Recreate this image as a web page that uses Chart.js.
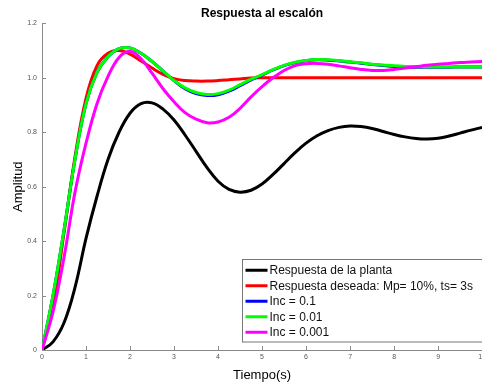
<!DOCTYPE html>
<html>
<head>
<meta charset="utf-8">
<script src="https://cdn.jsdelivr.net/npm/chart.js@4.4.1/dist/chart.umd.min.js"></script>
<style>
html,body{margin:0;padding:0;background:#fff;overflow:hidden;}
#wrap{position:relative;width:489px;height:383px;}
</style>
</head>
<body>
<div id="wrap"><canvas id="c"></canvas></div>
<script>
// ---- data ----
const tiempo = [0,0.25,0.5,0.75,1,1.25,1.5,1.75,2,2.25,2.5,2.75,3,3.25,3.5,3.75,4,4.25,4.5,4.75,5,
  5.25,5.5,5.75,6,6.25,6.5,6.75,7,7.25,7.5,7.75,8,8.25,8.5,8.75,9,9.25,9.5,9.75,10];

const planta = [0,0.03,0.10,0.23,0.41,0.565,0.70,0.80,0.87,0.905,0.908,0.885,0.845,0.79,0.73,0.67,0.62,0.59,0.58,0.587,0.61,
  0.645,0.685,0.725,0.76,0.787,0.806,0.818,0.823,0.821,0.814,0.803,0.792,0.783,0.777,0.775,0.778,0.786,0.797,0.808,0.818];

const deseada = [0,0.16,0.43,0.71,0.925,1.045,1.09,1.10,1.087,1.062,1.036,1.013,0.997,0.99,0.988,0.988,0.99,0.993,0.996,0.999,1.0,
  1.0,1.0,1.0,1.0,1.0,1.0,1.0,1.0,1.0,1.0,1.0,1.0,1.0,1.0,1.0,1.0,1.0,1.0,1.0,1.0];

const inc01 = [0,0.2,0.44,0.70,0.905,1.02,1.078,1.107,1.11,1.09,1.06,1.025,0.99,0.96,0.942,0.935,0.938,0.951,0.971,0.992,1.01,
  1.029,1.045,1.056,1.063,1.066,1.065,1.062,1.058,1.054,1.049,1.045,1.042,1.04,1.039,1.039,1.039,1.039,1.04,1.04,1.04];

const inc001 = [0,0.2,0.44,0.70,0.905,1.02,1.078,1.107,1.11,1.09,1.06,1.025,0.99,0.963,0.946,0.939,0.942,0.955,0.975,0.995,1.012,
  1.03,1.046,1.057,1.064,1.067,1.066,1.063,1.059,1.055,1.05,1.047,1.044,1.042,1.041,1.04,1.04,1.04,1.04,1.04,1.04];

const inc0001 = [0,0.14,0.34,0.58,0.76,0.905,1.005,1.075,1.098,1.07,1.017,0.96,0.912,0.872,0.848,0.835,0.838,0.855,0.888,0.93,0.968,
  1.0,1.027,1.045,1.052,1.053,1.05,1.044,1.037,1.031,1.027,1.027,1.031,1.036,1.041,1.046,1.05,1.053,1.056,1.058,1.06];

const etiquetas = ['Respuesta de la planta','Respuesta deseada: Mp= 10%, ts= 3s','Inc = 0.1','Inc = 0.01','Inc = 0.001'];
const colores = ['#000000','#ff0000','#0000ff','#00ff00','#ff00ff'];
const series = [planta, deseada, inc01, inc001, inc0001];

const FONT = '"Liberation Sans", Arial, Helvetica, sans-serif';
Chart.defaults.font.family = FONT;

const pts = s => tiempo.map((t,i)=>({x:t,y:s[i]}));

// inward tick marks (MATLAB style)
const inwardTicks = {
  id:'inwardTicks',
  beforeDatasetsDraw(chart){
    const ctx = chart.ctx, a = chart.chartArea;
    const xs = chart.scales.x, ys = chart.scales.y;
    ctx.save();
    ctx.strokeStyle = '#8a8a8a'; ctx.lineWidth = 1;
    ctx.beginPath();
    xs.ticks.forEach(t=>{ const p = Math.round(xs.getPixelForValue(t.value))+0.5;
      ctx.moveTo(p, a.bottom); ctx.lineTo(p, a.bottom-4); });
    ys.ticks.forEach(t=>{ const p = Math.round(ys.getPixelForValue(t.value))+0.5;
      ctx.moveTo(a.left, p); ctx.lineTo(a.left+4, p); });
    ctx.stroke();
    ctx.restore();
  }
};

// legend box inside the plot, bottom-right
const boxLegend = {
  id:'boxLegend',
  afterDraw(chart){
    const ctx = chart.ctx, a = chart.chartArea;
    ctx.save();
    ctx.font = '12px ' + FONT;
    const ds = chart.data.datasets;
    const rowH = 15.5, sample = 22;
    const right = a.right + 2;
    const left = 242.5;
    const top = 259.5;
    const h = ds.length*rowH + 5;
    ctx.fillStyle = '#fff';
    ctx.fillRect(left, top, right-left, h);
    ctx.strokeStyle = '#777'; ctx.lineWidth = 1;
    ctx.strokeRect(left, top, right-left, h);
    ctx.textBaseline = 'middle'; ctx.textAlign = 'left';
    ds.forEach((d,i)=>{
      const y = top + 3 + rowH*i + rowH/2;
      ctx.strokeStyle = d.borderColor; ctx.lineWidth = 3;
      ctx.beginPath(); ctx.moveTo(left+3, y); ctx.lineTo(left+3+sample, y); ctx.stroke();
      ctx.fillStyle = '#111';
      ctx.fillText(d.label, left+3+sample+2, y+0.5);
    });
    ctx.restore();
  }
};

new Chart(document.getElementById('c'), {
  type:'line',
  data:{
    datasets: series.map((s,i)=>({
      label: etiquetas[i],
      data: pts(s),
      borderColor: colores[i],
      backgroundColor: colores[i],
      borderWidth: 3,
      pointRadius: 0,
      fill:false,
      tension:0.4,
      order: 5 - i
    }))
  },
  options:{
    responsive:true,
    maintainAspectRatio:false,
    animation:false,
    layout:{padding:{left:0,right:0,top:0,bottom:0}},
    plugins:{
      legend:{display:false},
      tooltip:{enabled:false},
      title:{
        display:true,
        text:'Respuesta al escalón',
        fullSize:false,
        color:'#000',
        font:{size:12, weight:'bold', family:FONT},
        padding:{top:6,bottom:3}
      }
    },
    scales:{
      x:{
        type:'linear', min:0, max:10,
        ticks:{stepSize:1, color:'#555', font:{size:7}, padding:3, maxRotation:0},
        grid:{display:false, drawTicks:false},
        border:{display:true, color:'#8a8a8a', width:1},
        title:{display:true, text:'Tiempo(s)', color:'#000', font:{size:13}, padding:{top:2,bottom:0}},
        afterFit(s){ s.height = 33; }
      },
      y:{
        type:'linear', min:0, max:1.2,
        ticks:{stepSize:0.2, color:'#555', font:{size:7}, padding:5},
        grid:{display:false, drawTicks:false},
        border:{display:true, color:'#8a8a8a', width:1},
        title:{display:true, text:'Amplitud', color:'#000', font:{size:13}, padding:{top:11,bottom:0}},
        afterFit(s){ s.width = 42; }
      }
    }
  },
  plugins:[inwardTicks, boxLegend]
});
</script>
</body>
</html>
